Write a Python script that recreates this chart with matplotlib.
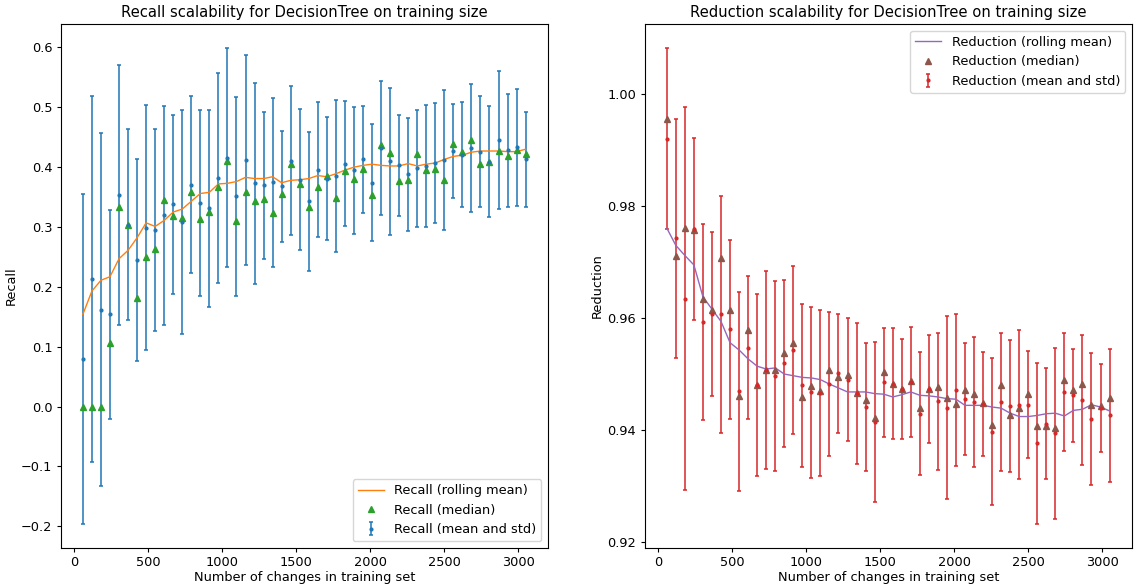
import matplotlib

matplotlib.use("Agg")
import matplotlib.pyplot as plt

# training-set sizes (number of changes) shared by both panels
train_sizes = [61, 122, 183, 244, 305, 366, 427, 488, 549, 610,
               671, 732, 793, 854, 915, 976, 1037, 1098, 1159, 1220,
               1281, 1342, 1403, 1464, 1525, 1586, 1647, 1708, 1769, 1830,
               1891, 1952, 2013, 2074, 2135, 2196, 2257, 2318, 2379, 2440,
               2501, 2562, 2623, 2684, 2745, 2806, 2867, 2928, 2989, 3050]

recall_mean = [0.080, 0.213, 0.162, 0.154, 0.353, 0.304, 0.245, 0.299, 0.295, 0.320,
               0.338, 0.309, 0.371, 0.340, 0.331, 0.382, 0.416, 0.351, 0.412, 0.373,
               0.370, 0.375, 0.368, 0.411, 0.379, 0.343, 0.396, 0.381, 0.386, 0.406,
               0.395, 0.413, 0.374, 0.432, 0.410, 0.403, 0.388, 0.398, 0.402, 0.407,
               0.412, 0.427, 0.421, 0.432, 0.426, 0.409, 0.445, 0.428, 0.433, 0.413]
recall_std = [0.276, 0.306, 0.295, 0.174, 0.217, 0.159, 0.169, 0.205, 0.168, 0.183,
              0.150, 0.187, 0.148, 0.155, 0.165, 0.176, 0.183, 0.166, 0.176, 0.168,
              0.123, 0.141, 0.093, 0.125, 0.118, 0.116, 0.113, 0.103, 0.127, 0.104,
              0.106, 0.089, 0.098, 0.112, 0.123, 0.085, 0.094, 0.098, 0.102, 0.101,
              0.117, 0.079, 0.088, 0.107, 0.093, 0.093, 0.115, 0.095, 0.098, 0.079]
recall_median = [0.0, 0.0, 0.0, 0.106, 0.333, 0.303, 0.182, 0.250, 0.263, 0.345,
                 0.319, 0.315, 0.359, 0.314, 0.325, 0.367, 0.411, 0.310, 0.359, 0.343,
                 0.346, 0.324, 0.355, 0.406, 0.372, 0.333, 0.367, 0.385, 0.349, 0.394,
                 0.381, 0.397, 0.353, 0.437, 0.423, 0.377, 0.378, 0.422, 0.396, 0.397,
                 0.378, 0.438, 0.425, 0.446, 0.405, 0.408, 0.427, 0.418, 0.428, 0.422]
recall_rolling = [0.154, 0.193, 0.211, 0.217, 0.247, 0.261, 0.282, 0.307, 0.301, 0.311,
                  0.325, 0.330, 0.343, 0.356, 0.358, 0.372, 0.373, 0.376, 0.383, 0.381,
                  0.381, 0.384, 0.374, 0.378, 0.379, 0.381, 0.386, 0.384, 0.389, 0.395,
                  0.400, 0.403, 0.405, 0.403, 0.402, 0.402, 0.406, 0.402, 0.405, 0.407,
                  0.413, 0.418, 0.420, 0.425, 0.427, 0.427, 0.427, 0.426, 0.426, 0.430]

reduction_mean = [0.9921, 0.9743, 0.9635, 0.9759, 0.9593, 0.9607, 0.9607, 0.9580, 0.9469, 0.9547,
                  0.9481, 0.9508, 0.9497, 0.9519, 0.9543, 0.9480, 0.9467, 0.9466, 0.9482, 0.9501,
                  0.9490, 0.9466, 0.9441, 0.9414, 0.9485, 0.9483, 0.9473, 0.9486, 0.9429, 0.9473,
                  0.9451, 0.9440, 0.9471, 0.9455, 0.9450, 0.9446, 0.9397, 0.9450, 0.9442, 0.9445,
                  0.9445, 0.9376, 0.9411, 0.9394, 0.9468, 0.9462, 0.9453, 0.9419, 0.9439, 0.9426]
reduction_std = [0.0162, 0.0214, 0.0342, 0.0163, 0.0175, 0.0147, 0.0212, 0.0160, 0.0178, 0.0128,
                 0.0163, 0.0177, 0.0170, 0.0150, 0.0150, 0.0146, 0.0153, 0.0149, 0.0129, 0.0106,
                 0.0110, 0.0126, 0.0114, 0.0143, 0.0097, 0.0099, 0.0089, 0.0099, 0.0110, 0.0096,
                 0.0123, 0.0164, 0.0136, 0.0100, 0.0116, 0.0093, 0.0131, 0.0124, 0.0118, 0.0133,
                 0.0096, 0.0144, 0.0099, 0.0153, 0.0105, 0.0083, 0.0116, 0.0118, 0.0079, 0.0119]
reduction_median = [0.9957, 0.9711, 0.9761, 0.9758, 0.9635, 0.9615, 0.9708, 0.9614, 0.9461, 0.9579,
                    0.9480, 0.9507, 0.9507, 0.9537, 0.9555, 0.9459, 0.9478, 0.9470, 0.9508, 0.9495,
                    0.9498, 0.9466, 0.9453, 0.9422, 0.9504, 0.9483, 0.9474, 0.9487, 0.9440, 0.9474,
                    0.9476, 0.9457, 0.9447, 0.9471, 0.9464, 0.9448, 0.9409, 0.9480, 0.9427, 0.9440,
                    0.9464, 0.9407, 0.9407, 0.9404, 0.9489, 0.9471, 0.9483, 0.9445, 0.9443, 0.9458]
reduction_rolling = [0.9761, 0.9730, 0.9712, 0.9695, 0.9638, 0.9616, 0.9594, 0.9556, 0.9543, 0.9527,
                     0.9514, 0.9509, 0.9511, 0.9500, 0.9497, 0.9494, 0.9493, 0.9490, 0.9482, 0.9475,
                     0.9468, 0.9468, 0.9468, 0.9465, 0.9464, 0.9459, 0.9463, 0.9468, 0.9462, 0.9461,
                     0.9459, 0.9456, 0.9455, 0.9444, 0.9444, 0.9444, 0.9441, 0.9439, 0.9430, 0.9424,
                     0.9424, 0.9426, 0.9429, 0.9430, 0.9425, 0.9435, 0.9437, 0.9445, 0.9441, 0.9434]

plt.rcParams.update({
    "font.size": 9.3,
    "axes.titlesize": 10.6,
    "xtick.major.size": 3.1,
    "ytick.major.size": 3.1,
    "xtick.major.pad": 3.0,
    "ytick.major.pad": 3.0,
    "axes.labelpad": 2.5,
})


def panel(ax, name, mean, std, median, rolling, colors, legend_loc):
    c_err, c_med, c_roll = colors
    ax.errorbar(train_sizes, mean, yerr=std, fmt=".", color=c_err, markersize=4,
                elinewidth=1.1, capsize=1.6, capthick=1.1, label=f"{name} (mean and std)")
    ax.plot(train_sizes, rolling, color=c_roll, linewidth=1, label=f"{name} (rolling mean)")
    ax.plot(train_sizes, median, "^", color=c_med, markersize=4.5, linestyle="none",
            label=f"{name} (median)")
    ax.set_title(f"{name} scalability for DecisionTree on training size", pad=5)
    ax.set_xlabel("Number of changes in training set", labelpad=1)
    ax.set_ylabel(name)
    ax.legend(loc=legend_loc)


fig, (ax1, ax2) = plt.subplots(1, 2, figsize=(11.35, 5.85), dpi=100)
fig.subplots_adjust(left=0.0535, right=0.9971, bottom=0.0638, top=0.9585, wspace=0.199)

panel(ax1, "Recall", recall_mean, recall_std, recall_median, recall_rolling,
      ("tab:blue", "tab:green", "tab:orange"), "lower right")
panel(ax2, "Reduction", reduction_mean, reduction_std, reduction_median, reduction_rolling,
      ("tab:red", "tab:brown", "tab:purple"), "upper right")

fig.savefig("out.png", dpi=100)
